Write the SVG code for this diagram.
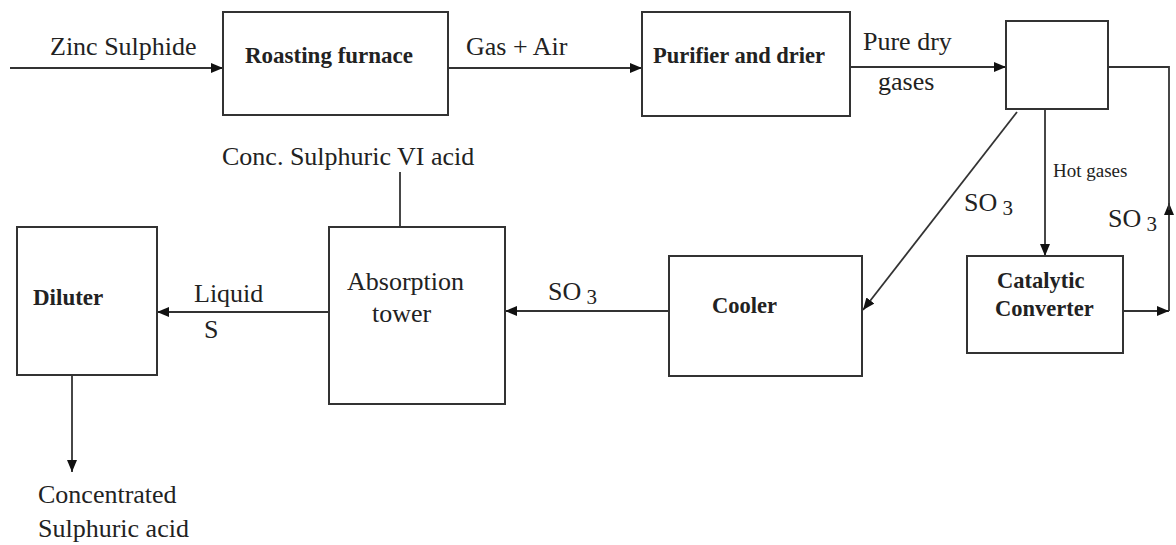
<svg xmlns="http://www.w3.org/2000/svg" width="1176" height="545" viewBox="0 0 1176 545">
<style>
.box{fill:#fff;stroke:#333;stroke-width:2}
.ln{fill:none;stroke:#333;stroke-width:1.8}
.b{font-weight:bold}
</style>
<defs>
<marker id="ah" viewBox="0 0 12 10" refX="12" refY="5" markerWidth="12" markerHeight="10" orient="auto" markerUnits="userSpaceOnUse">
<path d="M0,0 L12,5 L0,10 z" fill="#111"/>
</marker>
</defs>
<rect width="1176" height="545" fill="#fff"/>
<g font-family="'Liberation Serif',serif" fill="#222" font-size="26">
<g id="connectors">
<line class="ln" x1="10" y1="68" x2="223" y2="68" marker-end="url(#ah)"/>
<line class="ln" x1="448" y1="68" x2="642" y2="68" marker-end="url(#ah)"/>
<line class="ln" x1="850" y1="67" x2="1006" y2="67" marker-end="url(#ah)"/>
<line class="ln" x1="1123" y1="311" x2="1169" y2="311" marker-end="url(#ah)"/>
<line class="ln" x1="1169" y1="311" x2="1169" y2="203" marker-end="url(#ah)"/>
<path class="ln" d="M1169,210 V67 H1108"/>
<line class="ln" x1="1045" y1="109" x2="1045" y2="256" marker-end="url(#ah)"/>
<line class="ln" x1="1017" y1="112" x2="863" y2="310" marker-end="url(#ah)"/>
<line class="ln" x1="669" y1="311" x2="505" y2="311" marker-end="url(#ah)"/>
<line class="ln" x1="329" y1="312" x2="157" y2="312" marker-end="url(#ah)"/>
<line class="ln" x1="72" y1="375" x2="72" y2="472" marker-end="url(#ah)"/>
<line class="ln" x1="400" y1="172" x2="400" y2="228"/>
<polygon points="391,240 400,227 409,240" fill="#fff" stroke="#333" stroke-width="1.8"/>
<text x="50" y="55">Zinc Sulphide</text>
<text x="466" y="55">Gas + Air</text>
<text x="863" y="50">Pure dry</text>
<text x="878" y="90">gases</text>
<text x="1053" y="177" font-size="19">Hot gases</text>
<text x="964" y="211">SO<tspan font-size="21" dy="4"> 3</tspan></text>
<text x="1108" y="227">SO<tspan font-size="21" dy="4"> 3</tspan></text>
<text x="548" y="300">SO<tspan font-size="21" dy="4"> 3</tspan></text>
<text x="194" y="302">Liquid</text>
<text x="204" y="338">S</text>
<text x="222" y="165">Conc. Sulphuric VI acid</text>
<text x="38" y="503">Concentrated</text>
<text x="38" y="537">Sulphuric acid</text>
</g>
<g id="roasting">
<rect class="box" x="223" y="12" width="225" height="103"/>
<text class="b" x="245" y="63" font-size="23">Roasting furnace</text>
</g>
<g id="purifier">
<rect class="box" x="642" y="12" width="208" height="104"/>
<text class="b" x="653" y="63" font-size="22.5">Purifier and drier</text>
</g>
<g id="junction">
<rect class="box" x="1006" y="21" width="102" height="88"/>
</g>
<g id="catalytic">
<rect class="box" x="967" y="256" width="156" height="97"/>
<text class="b" x="997" y="288" font-size="22.5">Catalytic</text>
<text class="b" x="995" y="316" font-size="22.5">Converter</text>
</g>
<g id="cooler">
<rect class="box" x="669" y="256" width="193" height="120"/>
<text class="b" x="712" y="313" font-size="22.5">Cooler</text>
</g>
<g id="absorption">
<rect class="box" x="329" y="227" width="176" height="177"/>
<text x="347" y="290">Absorption</text>
<text x="372" y="322">tower</text>
</g>
<g id="diluter">
<rect class="box" x="17" y="227" width="140" height="148"/>
<text class="b" x="33" y="305" font-size="23">Diluter</text>
</g>
</g>
</svg>
